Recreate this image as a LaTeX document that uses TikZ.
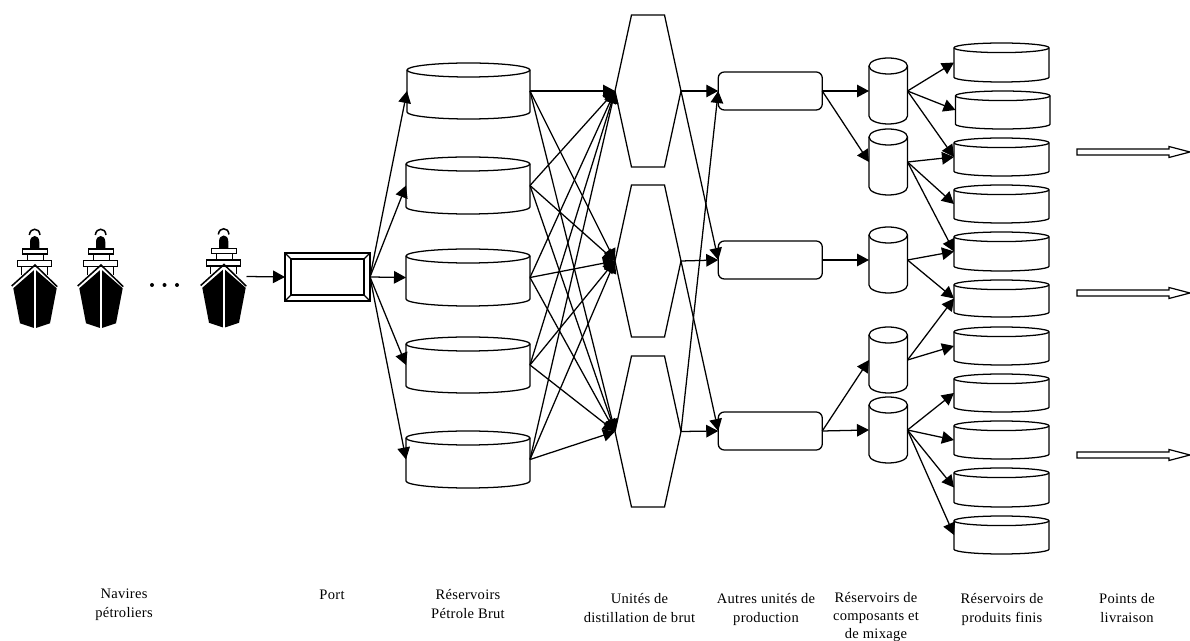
\documentclass[tikz,border=0pt]{standalone}
\usepackage{fontspec}
\setmainfont{Liberation Serif}[LetterSpace=2]
\usetikzlibrary{arrows.meta}
\newcommand{\tankbox}[6]{% name x1 x2 top bottom ry
  \pgfmathsetmacro{\cxv}{(#2+#3)/2}
  \pgfmathsetmacro{\cyv}{(#4+#5)/2}
  \pgfmathsetmacro{\rxv}{(#3-#2)/2*0.75}
  \pgfmathsetmacro{\ryv}{#6*0.75}
  \pgfmathsetmacro{\wv}{(#3-#2)*0.75}
  \pgfmathsetmacro{\hv}{(#5-#4)*0.75}
  \node[anchorbox,minimum width=\wv pt,minimum height=\hv pt] (#1) at (\cxv,\cyv) {};
  \draw[shapeline,fill=white] (#2,#4+#6) arc[start angle=180,end angle=0,x radius=\rxv pt,y radius=\ryv pt]
    -- (#3,#5-#6) arc[start angle=0,end angle=-180,x radius=\rxv pt,y radius=\ryv pt] -- cycle;
  \draw[shapeline] (#2,#4+#6) arc[start angle=180,end angle=360,x radius=\rxv pt,y radius=\ryv pt];
}
\newcommand{\hexbox}[3]{% name top bottom
  \pgfmathsetmacro{\cyv}{(#2+#3)/2}
  \pgfmathsetmacro{\hv}{(#3-#2)*0.75}
  \node[anchorbox,minimum width=49.5pt,minimum height=\hv pt] (#1) at (648,\cyv) {};
  \draw[shapeline,fill=white] (615,\cyv) -- (631.5,#2) -- (664.5,#2) -- (681,\cyv) -- (664.5,#3) -- (631.5,#3) -- cycle;
}
\newcommand{\unitbox}[3]{% name top bottom
  \pgfmathsetmacro{\cyv}{(#2+#3)/2}
  \pgfmathsetmacro{\hv}{(#3-#2)*0.75}
  \node[shapeline,draw,fill=white,rounded corners=4.5pt,inner sep=0pt,outer sep=0pt,minimum width=78pt,minimum height=\hv pt] (#1) at (770.25,\cyv) {};
}
\newcommand{\shipicon}[3]{% name x y
  \node[anchorbox,minimum width=33.75pt,minimum height=1pt] (#1) at (#2,#3) {};
  \begin{scope}[shift={(#2,#3)}]
    \fill[black] (-21.7,11.3) -- (-15,46.3) -- (0,51.3) -- (15,46.3) -- (21.7,11.3) -- (0,-7.7) -- cycle;
    \draw[white,line width=1.6pt] (0,-8) -- (0,52);
    \draw[shipline] (-23.3,9) -- (0,-12) -- (22.3,9.7);
    \draw[shipline] (-13.3,-10.3) -- (-13.3,-2);
    \draw[shipline] (12.7,-10.3) -- (12.7,-2);
    \draw[shipline] (-7.7,-23) rectangle (8.3,-16.3);
    \draw[shipline] (-17.7,-16.3) rectangle (16.7,-10.3);
    \draw[shipline] (-12.7,-28) rectangle (12.3,-23);
    \fill[black] (-5,-28.5) -- (-5,-35) .. controls (-5,-39) and (-2.5,-41) .. (-0.3,-41) .. controls (2,-41) and (4.3,-39) .. (4.3,-35) -- (4.3,-28.5) -- cycle;
    \draw[shipline] (-5.7,-42) .. controls (-5,-46) and (-3,-47.7) .. (-0.3,-47.7) .. controls (2.5,-47.7) and (4.5,-46) .. (5,-42);
  \end{scope}
}
\tikzset{
  anchorbox/.style={inner sep=0pt,outer sep=0pt,draw=none},
  shapeline/.style={line width=0.95pt,black},
  shipline/.style={line width=1.15pt,black},
  conn/.style={line width=0.95pt,black,-{Triangle[length=9pt,width=9.4pt]}},
  caption/.style={font=\fontsize{10.9}{14.3}\selectfont,align=center,anchor=north,inner sep=0pt},
  deliver/.style={line width=0.9pt,black,fill=white},
}
\begin{document}
\begin{tikzpicture}[x=0.75pt,y=-0.75pt]
\useasboundingbox (0,0) rectangle (1190,641);
% ships
\shipicon{ship1}{35}{277}
\shipicon{ship2}{101}{277}
\shipicon{ship3}{224}{276.5}
\foreach \dx in {152,164.5,177} \fill[black] (\dx,285) circle[radius=1.5pt];
% port
\node[shapeline,draw,fill=white,inner sep=0pt,outer sep=0pt,minimum width=63.75pt,minimum height=36pt] (port) at (327.5,277) {};
\draw[shapeline] (291,259) rectangle (364,295);
\draw[shapeline] (port.north west) -- (291,259) (port.north east) -- (364,259) (port.south west) -- (291,295) (port.south east) -- (364,295);
% crude tanks
\tankbox{t1}{407}{530}{63}{119}{7}
\tankbox{t2}{406}{530}{157}{214}{7}
\tankbox{t3}{406}{530}{249}{306}{7}
\tankbox{t4}{406}{530}{337}{393}{7}
\tankbox{t5}{406}{530}{431}{488}{7}
% distillation
\hexbox{h1}{15}{167}
\hexbox{h2}{185}{337}
\hexbox{h3}{356}{507}
% other units
\unitbox{u1}{72}{110}
\unitbox{u2}{241}{279}
\unitbox{u3}{412}{450}
% component tanks
\tankbox{c1}{869}{907.5}{58}{124}{8}
\tankbox{c2}{869}{907.5}{129}{195}{8}
\tankbox{c3}{869}{907.5}{227}{293}{8}
\tankbox{c4}{869}{907.5}{327}{393}{8}
\tankbox{c5}{869}{907.5}{397}{463}{8}
% product tanks
\tankbox{p1}{954}{1049}{43}{82}{4.8}
\tankbox{p2}{955.5}{1050}{91}{129}{4.8}
\tankbox{p3}{954}{1049}{138}{176}{4.8}
\tankbox{p4}{954}{1049}{185}{223}{4.8}
\tankbox{p5}{954}{1049}{232}{271}{4.8}
\tankbox{p6}{954}{1049}{280}{317}{4.8}
\tankbox{p7}{954}{1049}{327}{365}{4.8}
\tankbox{p8}{954}{1049}{374}{412}{4.8}
\tankbox{p9}{954}{1049}{421}{459}{4.8}
\tankbox{p10}{954}{1049}{468}{507}{4.8}
\tankbox{p11}{954}{1049}{516}{554}{4.8}
% connectors
\draw[conn] (ship3.east) -- (port.west);
\foreach \i in {1,...,5} \draw[conn] (port.east) -- (t\i.west);
\foreach \i in {1,...,5} \foreach \j in {1,2,3} \draw[conn] (t\i.east) -- (h\j.west);
\draw[conn] (h1.east) -- (u1.west);
\draw[conn] (h1.east) -- (u2.west);
\draw[conn] (h2.east) -- (u2.west);
\draw[conn] (h2.east) -- (u3.west);
\draw[conn] (h3.east) -- (u3.west);
\draw[conn] (h3.east) -- (u1.west);
\draw[conn] (u1.east) -- (c1.west);
\draw[conn] (u1.east) -- (c2.west);
\draw[conn] (u2.east) -- (c3.west);
\draw[conn] (u3.east) -- (c4.west);
\draw[conn] (u3.east) -- (c5.west);
\foreach \a/\b in {c1/p1,c1/p2,c1/p3,c2/p3,c2/p4,c2/p5,c3/p5,c3/p6,c4/p6,c4/p7,c5/p8,c5/p9,c5/p10,c5/p11}
  \draw[conn] (\a.east) -- (\b.west);
% delivery arrows
\foreach \yy in {152,293,455}
  \draw[deliver] (1077,\yy-3) -- (1169,\yy-3) -- (1169,\yy-5.5) -- (1190,\yy) -- (1169,\yy+5.5) -- (1169,\yy+3) -- (1077,\yy+3) -- cycle;
% captions
\node[caption] (l1) at (124,589) {Navires\\pétroliers};
\node[caption] (l2) at (332,589.5) {Port};
\node[caption] (l3) at (468,589) {Réservoirs\\Pétrole Brut};
\node[caption] (l4) at (639.5,593.5) {Unités de\\distillation de brut};
\node[caption] (l5) at (766,593.5) {Autres unités de\\production};
\node[caption,font=\fontsize{10.9}{13.2}\selectfont] (l6) at (876,592.5) {Réservoirs de\\composants et\\de mixage};
\node[caption] (l7) at (1002,593.5) {Réservoirs de\\produits finis};
\node[caption] (l8) at (1127,593.5) {Points de\\livraison};
\end{tikzpicture}
\end{document}
